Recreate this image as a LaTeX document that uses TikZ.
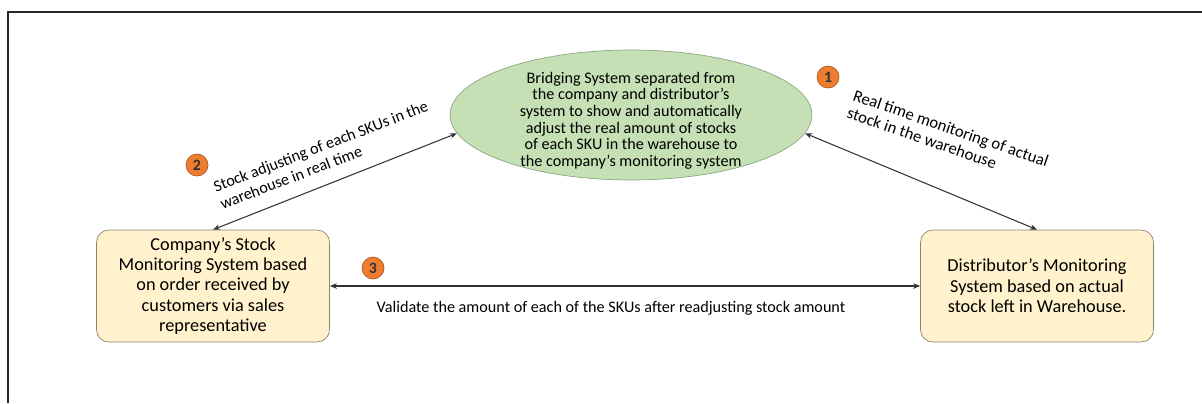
\documentclass[tikz,border=0pt]{standalone}
\usepackage{fontspec}
\setmainfont{Carlito}
\usetikzlibrary{arrows.meta, shapes.geometric}
\definecolor{bridgegreen}{HTML}{C5E0B4}
\definecolor{bridgeedge}{HTML}{8FA683}
\definecolor{sysyellow}{HTML}{FFF2CC}
\definecolor{sysedge}{HTML}{8A8472}
\definecolor{badgeorange}{HTML}{ED7D31}
\definecolor{badgeedge}{HTML}{B85A1C}

\begin{document}
\begin{tikzpicture}[x=0.02cm, y=-0.02cm, >={Stealth[length=1.4mm, width=1.1mm]},
  every node/.style={font=\fontsize{9.2}{9.5}\selectfont},
  sysbox/.style={draw=sysedge, fill=sysyellow, rounded corners=7pt, align=center, minimum width=4.66cm, minimum height=2.24cm, font=\fontsize{10.4}{11.6}\selectfont},
  badge/.style={circle, draw=badgeedge, fill=badgeorange, minimum size=0.44cm, inner sep=0pt, text=black!80, font=\fontsize{9}{9}\selectfont\bfseries},
  link/.style={<->, black!80, line width=0.6pt}]
  \useasboundingbox (0,0) rectangle (1202,403);
  % frame
  \draw[black!85, line width=1.2pt] (8,403) -- (8,12) -- (1202,12);

  \node[ellipse, draw=bridgeedge, fill=bridgegreen, minimum width=7.24cm, minimum height=2.6cm, inner xsep=0pt, inner ysep=-8pt] (brid) at (631,115) {\raisebox{-0.13cm}[\height][\depth]{\begin{tabular}{@{}c@{}}Bridging System separated from\\the company and distributor’s\\system to show and automatically\\adjust the real amount of stocks\\of each SKU in the warehouse to\\the company’s monitoring system\end{tabular}}};
  \node[sysbox] (comp) at (213,286) {Company’s Stock\\Monitoring System based\\on order received by\\customers via sales\\representative};
  \node[sysbox] (dist) at (1037,286) {Distributor’s Monitoring\\System based on actual\\stock left in Warehouse.};

  \draw[link] (comp.north) -- (brid.186);
  \draw[link] (brid.-6) -- (dist.north);
  \draw[link] (comp.east) -- (dist.west);

  \node[rotate=21, align=left, font=\fontsize{9.2}{10.5}\selectfont] (lbl2) at (324,155) {Stock adjusting of each SKUs in the\\warehouse in real time};
  \node[rotate=-19, align=left, font=\fontsize{9.5}{10.5}\selectfont] (lbl1) at (948,137) {Real time monitoring of actual\\stock in the warehouse};
  \node (lbl3) at (611,308) {Validate the amount of each of the SKUs after readjusting stock amount};

  \node[badge] (b1) at (828,77) {1};
  \node[badge] (b2) at (197,165) {2};
  \node[badge] (b3) at (373,268) {3};
\end{tikzpicture}
\end{document}
